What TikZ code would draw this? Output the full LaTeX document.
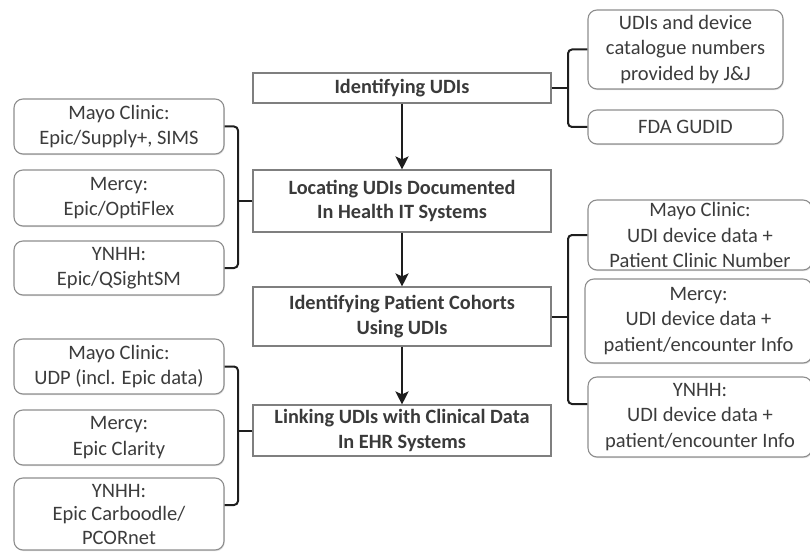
\documentclass[tikz,border=0pt]{standalone}
\usepackage{fontspec}
\setmainfont{Carlito}
\usepackage{xcolor}
\usetikzlibrary{arrows.meta,shadows}
\definecolor{stepline}{HTML}{7F7F7F}
\definecolor{stepText}{HTML}{3A3A3A}
\definecolor{srcline}{HTML}{8E8E8E}
\definecolor{srcText}{HTML}{3C3C3C}
\definecolor{linkline}{HTML}{1E1E1E}

\begin{document}
\begin{tikzpicture}[x=1pt,y=-1pt,font=\fontsize{20.5}{25.5}\selectfont]
            \tikzstyle{step box}=[draw=stepline,line width=1.1pt,fill=white,text=stepText,font=\fontsize{20.3}{24.5}\selectfont\bfseries,minimum width=298pt,inner sep=0pt,align=center]
            \tikzstyle{source box}=[draw=srcline,line width=1.1pt,rounded corners=9pt,fill=white,text=srcText,inner sep=0pt,align=center,drop shadow={opacity=0.25,shadow xshift=0.8pt,shadow yshift=-1.2pt}]
            \tikzstyle{flow}=[draw=linkline,line width=2.6pt,-{Stealth[length=13pt,width=13pt,inset=3pt]}]
            \tikzstyle{bracket}=[draw=linkline,line width=2pt,rounded corners=4pt]
            \useasboundingbox (0,0) rectangle (810,553);
            \clip (0,0) rectangle (810,553);
            % joints of the brackets
            \coordinate (jointL) at (238,0);
            \coordinate (jointR) at (568,0);
            % main steps
            \node[step box,minimum height=30pt] (id) at (402,88) {Identifying UDIs};
            \node[step box,minimum height=62pt] (loc) at (402,201) {Locating UDIs Documented\\In Health IT Systems};
            \node[step box,minimum height=59pt] (coh) at (402,316.5) {Identifying Patient Cohorts\\Using UDIs};
            \node[step box,minimum height=51pt] (link) at (402,430.5) {Linking UDIs with Clinical Data\\In EHR Systems};
            % sources, left
            \node[source box,minimum width=210pt,minimum height=55pt] (mayoA) at (119,126.5) {Mayo Clinic:\\Epic/Supply+, SIMS};
            \node[source box,minimum width=210pt,minimum height=56pt] (mercyA) at (119,198) {Mercy:\\Epic/OptiFlex};
            \node[source box,minimum width=210pt,minimum height=54pt] (ynhhA) at (119,268) {YNHH:\\Epic/QSightSM};
            \node[source box,minimum width=210pt,minimum height=55pt] (mayoB) at (119,366.5) {Mayo Clinic:\\UDP (incl. Epic data)};
            \node[source box,minimum width=210pt,minimum height=55pt] (mercyB) at (119,437.5) {Mercy:\\Epic Clarity};
            \node[source box,minimum width=210pt,minimum height=72pt,font=\fontsize{20.5}{23.5}\selectfont] (ynhhB) at (119,514) {YNHH:\\Epic Carboodle/\\PCORnet};
            % sources, right
            \node[source box,minimum width=195pt,minimum height=79pt] (jj) at (685.5,49.5) {UDIs and device\\catalogue numbers\\provided by J\&J};
            \node[source box,minimum width=195pt,minimum height=34pt] (gudid) at (685.5,127) {FDA GUDID};
            \node[source box,minimum width=224pt,minimum height=70pt] (mayoC) at (700,235) {Mayo Clinic:\\UDI device data +\\Patient Clinic Number};
            \node[source box,minimum width=227pt,minimum height=84pt] (mercyC) at (698.5,321) {Mercy:\\UDI device data +\\patient/encounter Info};
            \node[source box,minimum width=224pt,minimum height=80pt] (ynhhC) at (700,417) {YNHH:\\UDI device data +\\patient/encounter Info};
            % flow
            \draw[flow] (id) -- (loc);
            \draw[flow] (loc) -- (coh);
            \draw[flow] (coh) -- (link);
            % brackets
            \draw[bracket] (mayoA.east) -- (mayoA.east -| jointL) |- (ynhhA.east);
            \draw[bracket] (loc.west) -- (loc.west -| jointL);
            \draw[bracket] (mayoB.east) -- (mayoB.east -| jointL) |- ([yshift=9pt]ynhhB.east);
            \draw[bracket] (link.west) -- (link.west -| jointL);
            \draw[bracket] (jj.west) -- (jj.west -| jointR) |- (gudid.west);
            \draw[bracket] (id.east) -- (id.east -| jointR);
            \draw[bracket] (mayoC.west) -- (mayoC.west -| jointR) |- ([yshift=13pt]ynhhC.west);
            \draw[bracket] (coh.east) -- (coh.east -| jointR);
\end{tikzpicture}
\end{document}
